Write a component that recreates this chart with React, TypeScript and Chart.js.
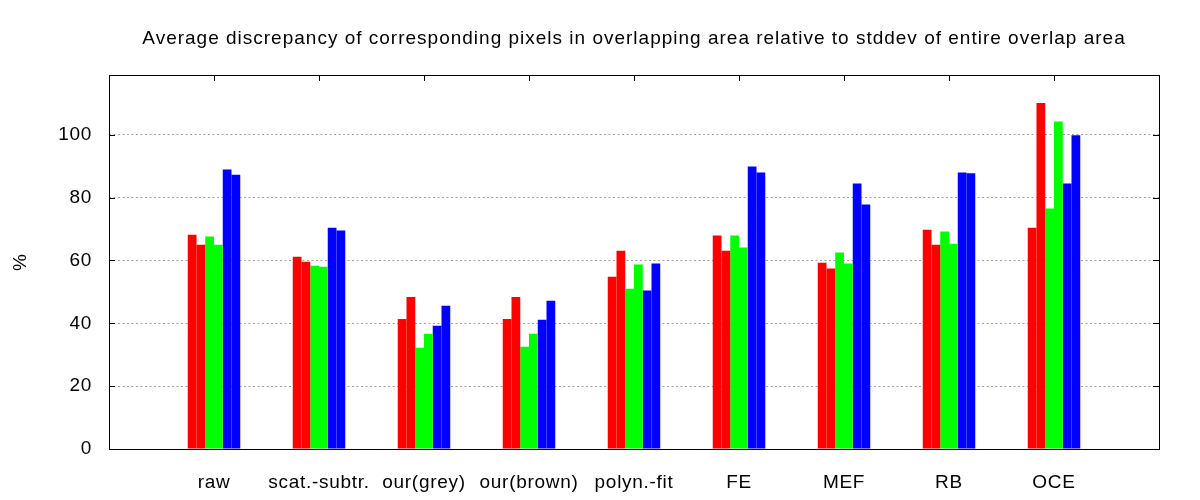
import React, { useEffect, useRef } from 'react';
import { Chart, registerables } from 'chart.js';

Chart.register(...registerables);

const categories = ['raw', 'scat.-subtr.', 'our(grey)', 'our(brown)', 'polyn.-fit', 'FE', 'MEF', 'RB', 'OCE'];

const red1 = [68.2, 61.2, 41.4, 41.4, 54.8, 67.9, 59.3, 69.8, 70.4];
const red2 = [65.0, 59.6, 48.4, 48.4, 63.1, 63.1, 57.4, 65.0, 110.1];
const green1 = [67.6, 58.3, 32.2, 32.5, 51.0, 67.9, 62.5, 69.2, 76.5];
const green2 = [65.0, 58.0, 36.7, 36.7, 58.7, 64.1, 59.0, 65.3, 104.2];
const blue1 = [88.9, 70.4, 39.2, 41.1, 50.4, 89.9, 84.5, 88.0, 84.5];
const blue2 = [87.3, 69.5, 45.6, 47.2, 59.0, 88.0, 77.8, 87.7, 99.8];

const yTicks = [0, 20, 40, 60, 80, 100];
const yMax = 119;

const TITLE = 'Average discrepancy of corresponding pixels in overlapping area relative to stddev of entire overlap area';
const FONT = "'Liberation Sans', Arial, sans-serif";

// gnuplot's png text is a little wider than canvas text, so add some letter spacing.
// the title (top axis, z 0) is drawn before the datasets, tick labels (z: 1) after them.
const spacingPlugin = {
    id: 'letterSpacing',
    beforeDraw(chart: any) {
        chart.ctx.letterSpacing = '1px';
    },
    afterDatasetsDraw(chart: any) {
        chart.ctx.letterSpacing = '0.7px';
    },
    afterDraw(chart: any) {
        chart.ctx.letterSpacing = '0px';
    },
};

// gnuplot style frame: box border plus short inward tics
const framePlugin = {
    id: 'gnuplotFrame',
    afterDraw(chart: any) {
        const { ctx, chartArea, scales } = chart;
        const { left, right, top, bottom } = chartArea;
        ctx.save();
        ctx.strokeStyle = '#000';
        ctx.lineWidth = 1;
        ctx.beginPath();
        yTicks.forEach((v) => {
            if (v === 0) return;
            const y = Math.round(scales.y.getPixelForValue(v)) + 0.5;
            ctx.moveTo(left, y);
            ctx.lineTo(left + 6, y);
            ctx.moveTo(right, y);
            ctx.lineTo(right - 6, y);
        });
        categories.forEach((_, i) => {
            const x = Math.round(scales.x.getPixelForValue(i + 1)) + 0.5;
            ctx.moveTo(x, top);
            ctx.lineTo(x, top + 6);
        });
        ctx.stroke();
        ctx.strokeRect(Math.round(left) + 0.5, Math.round(top) + 0.5, Math.round(right - left), Math.round(bottom - top));
        ctx.restore();
    },
};

const pad = (arr: number[]) => [null, ...arr, null];

const App: React.FC = () => {
    const chartRef = useRef<HTMLCanvasElement>(null);
    const chartInstance = useRef<Chart | null>(null);

    useEffect(() => {
        if (!chartRef.current) return;
        const ctx = chartRef.current.getContext('2d');
        if (!ctx) return;

        if (chartInstance.current) {
            chartInstance.current.destroy();
        }

        const series = [
            { label: 'red 1', data: red1, color: '#ff0000' },
            { label: 'red 2', data: red2, color: '#ff0000' },
            { label: 'green 1', data: green1, color: '#00ff00' },
            { label: 'green 2', data: green2, color: '#00ff00' },
            { label: 'blue 1', data: blue1, color: '#0000ff' },
            { label: 'blue 2', data: blue2, color: '#0000ff' },
        ];

        chartInstance.current = new Chart(ctx, {
            type: 'bar',
            data: {
                labels: ['', ...categories, ''],
                datasets: series.map((s) => ({
                    label: s.label,
                    data: pad(s.data),
                    backgroundColor: s.color,
                    borderWidth: 0,
                    barPercentage: 1,
                    categoryPercentage: 0.5,
                })),
            },
            options: {
                animation: false,
                responsive: true,
                maintainAspectRatio: false,
                layout: {
                    padding: { left: 0, right: 41, top: 0, bottom: 0 },
                },
                scales: {
                    x: {
                        offset: false,
                        grid: { display: false },
                        border: { display: false },
                        ticks: {
                            z: 1,
                            color: '#000',
                            padding: 14,
                            maxRotation: 0,
                            minRotation: 0,
                            autoSkip: false,
                            font: { family: FONT, size: 19 },
                        },
                        afterFit: (scale: any) => {
                            scale.height = 51;
                        },
                    },
                    // top axis only carries the title, so it is centred over the plot area like gnuplot's
                    xTop: {
                        type: 'category',
                        position: 'top',
                        offset: false,
                        grid: { display: false },
                        border: { display: false },
                        ticks: { display: false },
                        title: {
                            display: true,
                            text: TITLE,
                            color: '#000',
                            padding: { top: 27, bottom: 25 },
                            font: { family: FONT, size: 19, lineHeight: '23px' },
                        },
                        afterFit: (scale: any) => {
                            scale.height = 75;
                        },
                    },
                    y: {
                        min: 0,
                        max: yMax,
                        afterBuildTicks: (scale: any) => {
                            scale.ticks = yTicks.map((v) => ({ value: v }));
                        },
                        afterFit: (scale: any) => {
                            scale.width = 109;
                        },
                        grid: {
                            color: (c: any) => (c.tick && c.tick.value === 0 ? 'rgba(0,0,0,0)' : '#a0a0a0'),
                            lineWidth: 1,
                            drawTicks: false,
                        },
                        border: { display: false, dash: [2, 2.5] },
                        ticks: {
                            z: 1,
                            color: '#000',
                            padding: 17,
                            font: { family: FONT, size: 19 },
                        },
                        title: {
                            display: true,
                            text: '%',
                            color: '#000',
                            padding: { top: 9, bottom: 0 },
                            font: { family: FONT, size: 19 },
                        },
                    },
                },
                plugins: {
                    legend: { display: false },
                    tooltip: { enabled: false },
                    title: { display: false },
                },
            },
            plugins: [spacingPlugin, framePlugin],
        } as any);

        return () => {
            if (chartInstance.current) {
                chartInstance.current.destroy();
                chartInstance.current = null;
            }
        };
    }, []);

    return (
        <div style={{ position: 'fixed', left: 0, top: 0, width: '1200px', height: '500px', background: '#fff' }}>
            <canvas ref={chartRef}></canvas>
        </div>
    );
};

export default App;
